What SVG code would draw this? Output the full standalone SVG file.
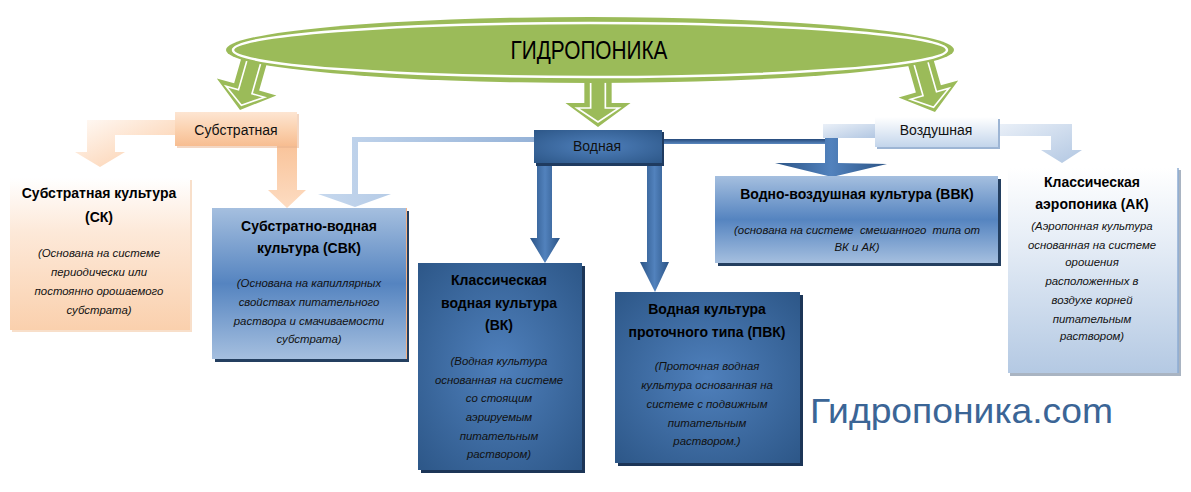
<svg xmlns="http://www.w3.org/2000/svg" width="1191" height="492" viewBox="0 0 1191 492">
<style>
.b{font-family:"Liberation Sans",Arial,sans-serif;font-weight:bold;font-size:14px;text-anchor:middle;fill:#000}
.i{font-family:"Liberation Sans",Arial,sans-serif;font-style:italic;font-size:11.4px;text-anchor:middle;fill:#111}
.l{font-family:"Liberation Sans",Arial,sans-serif;font-size:14px;text-anchor:middle;fill:#111}
.green{fill:#9bbb59}
.inner{fill:none;stroke:#fff;stroke-width:1.6}
</style>
<defs>
<linearGradient id="gOrBox" x1="0" y1="0" x2="0" y2="1"><stop offset="0" stop-color="#ffffff"/><stop offset="0.35" stop-color="#fde9d9"/><stop offset="1" stop-color="#fad0ad"/></linearGradient>
<linearGradient id="gOrLbl" x1="0" y1="0" x2="0" y2="1"><stop offset="0" stop-color="#fde5d2"/><stop offset="0.5" stop-color="#fbd2b0"/><stop offset="1" stop-color="#f7bd91"/></linearGradient>
<linearGradient id="gOrArr" x1="0" y1="0" x2="1" y2="1"><stop offset="0" stop-color="#fffaf6"/><stop offset="1" stop-color="#fbcaa3"/></linearGradient>
<linearGradient id="gOrArrV" x1="0" y1="0" x2="0" y2="1"><stop offset="0" stop-color="#f9c49b"/><stop offset="1" stop-color="#fddcc2"/></linearGradient>
<linearGradient id="gMid" x1="0" y1="0" x2="0" y2="1"><stop offset="0" stop-color="#a5bfdf"/><stop offset="0.5" stop-color="#5584c0"/><stop offset="1" stop-color="#a5bfdf"/></linearGradient>
<radialGradient id="gDark" cx="0.5" cy="0.5" r="0.7"><stop offset="0" stop-color="#4f80bc"/><stop offset="1" stop-color="#2d5788"/></radialGradient>
<linearGradient id="gLightBox" x1="0" y1="0" x2="0" y2="1"><stop offset="0" stop-color="#ffffff"/><stop offset="0.4" stop-color="#e3ebf5"/><stop offset="1" stop-color="#b4c9e3"/></linearGradient>
<linearGradient id="gLightLbl" x1="0" y1="0" x2="0" y2="1"><stop offset="0" stop-color="#ffffff"/><stop offset="1" stop-color="#c3d5eb"/></linearGradient>
<linearGradient id="gLightArr" x1="0" y1="0" x2="1" y2="1"><stop offset="0" stop-color="#eaf0f8"/><stop offset="1" stop-color="#b2c7e2"/></linearGradient>
<linearGradient id="gBlueArr" x1="0" y1="0" x2="1" y2="0"><stop offset="0" stop-color="#c6d8ee"/><stop offset="1" stop-color="#96b3d8"/></linearGradient>
<linearGradient id="gDarkArr" x1="0" y1="0" x2="1" y2="0"><stop offset="0" stop-color="#2b5486"/><stop offset="0.5" stop-color="#5282bd"/><stop offset="1" stop-color="#2b5486"/></linearGradient>
<linearGradient id="gDarkLine" x1="0" y1="0" x2="0" y2="1"><stop offset="0" stop-color="#25497a"/><stop offset="1" stop-color="#5b88c0"/></linearGradient>
<g id="garrow">
<polygon class="green" points="-13,-52 13,-52 13,-24 31,-24 0,0 -31,-24 -13,-24"/>
<polyline class="inner" points="-7,-52 -7,-19 -20,-19 0,-5 20,-19 7,-19 7,-52"/>
</g>
</defs>

<g id="connectors">
<use href="#garrow" transform="translate(240,110) rotate(16)"/>
<use href="#garrow" transform="translate(598,127) scale(1.05,1)"/>
<use href="#garrow" transform="translate(935,112) rotate(-16)"/>
<polygon fill="url(#gOrArr)" points="176,120 87,120 87,152 75,152 100,167 125,152 115,152 115,135 176,135"/>
<polygon fill="url(#gOrArrV)" points="277,146 297,146 297,190 306,190 287,208 268,190 277,190"/>
<polygon fill="url(#gBlueArr)" points="534,137 352,137 352,194 318,194 355,207 391,194 358,194 358,142 534,142"/>
<polygon fill="url(#gDarkArr)" points="537,164 552,164 552,238 560,238 545,263 530,238 537,238"/>
<polygon fill="url(#gDarkArr)" points="647,164 662,164 662,262 669,262 655,292 640,262 647,262"/>
<rect x="662" y="139" width="165" height="5" fill="url(#gDarkLine)"/>
<rect x="823" y="124" width="53" height="14" fill="url(#gLightArr)"/>
<polygon fill="url(#gDarkArr)" points="825,138 838,138 838,163 887,164 832,177 775,163 825,163"/>
<polygon fill="url(#gLightArr)" points="997,124 1072,124 1072,150 1082,150 1062,163 1041,150 1051,150 1051,136 997,136"/>
</g>

<g id="n-root">
<ellipse class="green" cx="590" cy="50" rx="364" ry="33"/>
<ellipse cx="590" cy="50" rx="357" ry="27" fill="none" stroke="#fff" stroke-width="2.5"/>
<text x="589" y="59" font-family="'Liberation Sans',Arial,sans-serif" font-size="25" text-anchor="middle" textLength="157" lengthAdjust="spacingAndGlyphs" fill="#000">ГИДРОПОНИКА</text>
</g>

<g id="n-substr">
<rect x="177" y="114" width="122" height="34" fill="#e8b08a" opacity="0.5"/>
<rect x="175" y="112" width="122" height="34" fill="url(#gOrLbl)"/>
<text class="l" x="236" y="135">Субстратная</text>
</g>

<g id="n-vodnaya">
<rect x="536" y="132" width="128" height="34" fill="#1f3b60"/>
<rect x="534" y="130" width="128" height="33" fill="url(#gDark)"/>
<text class="l" x="597" y="151">Водная</text>
</g>

<g id="n-vozd">
<rect x="877" y="119" width="123" height="30" fill="#9db5d4"/>
<rect x="875" y="117" width="123" height="30" fill="url(#gLightLbl)"/>
<text class="l" x="936" y="135">Воздушная</text>
</g>

<g id="n-sk">
<rect x="12" y="180" width="180" height="152" fill="#f3c9a6" opacity="0.6"/>
<rect x="10" y="178" width="180" height="152" fill="url(#gOrBox)"/>
<text class="b" x="99" y="198">Субстратная культура</text>
<text class="b" x="99" y="222">(СК)</text>
<text class="i" x="99" y="257">(Основана на системе</text>
<text class="i" x="99" y="276">периодически или</text>
<text class="i" x="99" y="295">постоянно орошаемого</text>
<text class="i" x="99" y="314">субстрата)</text>
</g>

<g id="n-svk">
<rect x="215" y="211" width="194" height="151" fill="#243f60"/>
<rect x="212" y="208" width="194" height="151" fill="url(#gMid)"/>
<line x1="406.5" y1="208" x2="406.5" y2="359" stroke="#f4b183" stroke-width="1"/>
<text class="b" x="309" y="231">Субстратно-водная</text>
<text class="b" x="309" y="253">культура (СВК)</text>
<text class="i" x="309" y="287">(Основана на капиллярных</text>
<text class="i" x="309" y="306">свойствах питательного</text>
<text class="i" x="309" y="325">раствора и смачиваемости</text>
<text class="i" x="309" y="343">субстрата)</text>
</g>

<g id="n-vk">
<rect x="421" y="266" width="164" height="207" fill="#1c3557"/>
<rect x="418" y="263" width="164" height="207" fill="url(#gDark)"/>
<text class="b" x="499" y="285">Классическая</text>
<text class="b" x="499" y="308">водная культура</text>
<text class="b" x="499" y="330">(ВК)</text>
<text class="i" x="499" y="365">(Водная культура</text>
<text class="i" x="499" y="384">основанная на системе</text>
<text class="i" x="499" y="402">со стоящим</text>
<text class="i" x="499" y="421">аэрируемым</text>
<text class="i" x="499" y="440">питательным</text>
<text class="i" x="499" y="458">раствором)</text>
</g>

<g id="n-pvk">
<rect x="618" y="295" width="185" height="171" fill="#1c3557"/>
<rect x="615" y="292" width="185" height="171" fill="url(#gDark)"/>
<text class="b" x="707" y="314">Водная культура</text>
<text class="b" x="707" y="337">проточного типа (ПВК)</text>
<text class="i" x="707" y="370">(Проточная водная</text>
<text class="i" x="707" y="389">культура основанная на</text>
<text class="i" x="707" y="408">системе с подвижным</text>
<text class="i" x="707" y="427">питательным</text>
<text class="i" x="707" y="445">раствором.)</text>
</g>

<g id="n-vvk">
<rect x="718" y="179" width="283" height="87" fill="#243f60"/>
<rect x="715" y="176" width="283" height="87" fill="url(#gMid)"/>
<text class="b" x="857" y="199">Водно-воздушная культура (ВВК)</text>
<text class="i" x="857" y="234" style="white-space:pre">(основана на системе  смешанного  типа от</text>
<text class="i" x="857" y="251">ВК и АК)</text>
</g>

<g id="n-ak">
<rect x="1010" y="170" width="171" height="206" fill="#a9b4c2"/>
<rect x="1008" y="168" width="170" height="205" fill="url(#gLightBox)"/>
<line x1="1178" y1="168" x2="1178" y2="373" stroke="#8eacd3" stroke-width="1.5"/>
<text class="b" x="1092" y="187">Классическая</text>
<text class="b" x="1092" y="209">аэропоника (АК)</text>
<text class="i" x="1092" y="230">(Аэропонная культура</text>
<text class="i" x="1092" y="249">основанная на системе</text>
<text class="i" x="1092" y="266">орошения</text>
<text class="i" x="1092" y="285">расположенных в</text>
<text class="i" x="1092" y="304">воздухе корней</text>
<text class="i" x="1092" y="323">питательным</text>
<text class="i" x="1092" y="340">раствором)</text>
</g>

<text x="810" y="423" font-family="'Liberation Sans',Arial,sans-serif" font-size="35" fill="#3b6596" textLength="303" lengthAdjust="spacingAndGlyphs">Гидропоника.com</text>
</svg>
